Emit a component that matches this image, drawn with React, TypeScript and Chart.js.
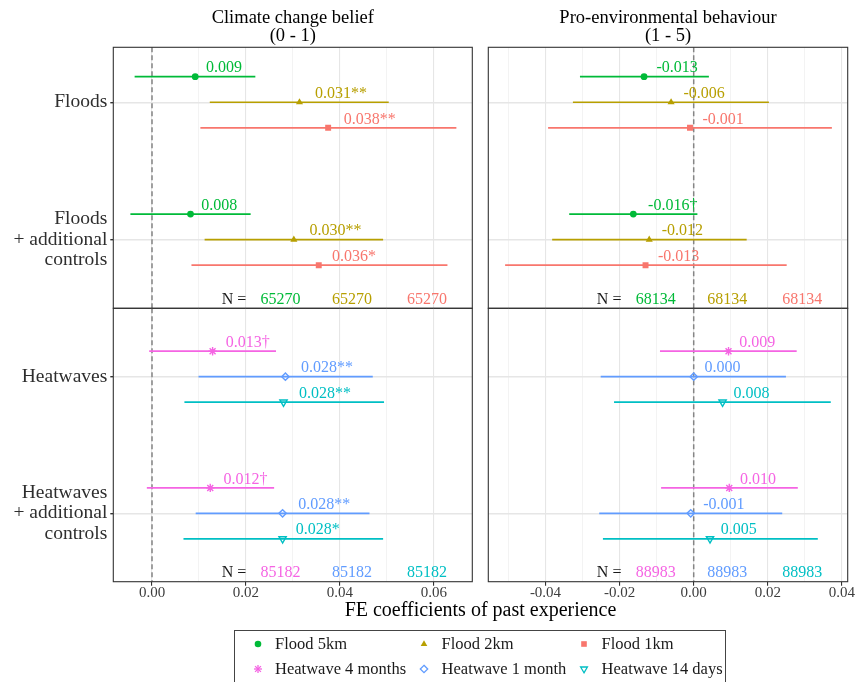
import React, { useEffect, useRef } from "react";
import { Chart, registerables } from "chart.js";
Chart.register(...registerables);

const FONT = "'Liberation Serif', 'Times New Roman', serif";

// ---------------- data ----------------
const columnTitles = ["Climate change belief", "Pro-environmental behaviour"];
const columnRanges = ["(0 - 1)", "(1 - 5)"];
const xAxisTitle = "FE coefficients of past experience";

const floodRowLabels = [["Floods"], ["Floods", "+ additional", "controls"]];
const heatRowLabels = [["Heatwaves"], ["Heatwaves", "+ additional", "controls"]];

const floodSeries = ["Flood 5km", "Flood 2km", "Flood 1km"];
const heatSeries = ["Heatwave 4 months", "Heatwave 1 month", "Heatwave 14 days"];
const floodColors = ["#00BA38", "#B79F00", "#F8766D"];
const heatColors = ["#F564E3", "#619CFF", "#00BFC4"];

const beliefTicks = [0, 0.02, 0.04, 0.06];
const behaviourTicks = [-0.04, -0.02, 0, 0.02, 0.04];

// [series][row]  rows: base, + additional controls
const beliefFloodEst = [[0.0092, 0.0082], [0.0314, 0.0302], [0.0375, 0.0355]];
const beliefFloodLo = [[-0.0037, -0.0046], [0.0123, 0.0112], [0.0103, 0.0084]];
const beliefFloodHi = [[0.022, 0.021], [0.0504, 0.0492], [0.0648, 0.0629]];
const beliefFloodLab = [["0.009", "0.008"], ["0.031**", "0.030**"], ["0.038**", "0.036*"]];
const beliefFloodN = [65270, 65270, 65270];

const behavFloodEst = [[-0.0134, -0.0163], [-0.0061, -0.012], [-0.001, -0.013]];
const behavFloodLo = [[-0.0307, -0.0336], [-0.0326, -0.0382], [-0.0393, -0.0509]];
const behavFloodHi = [[0.0041, 0.001], [0.0203, 0.0143], [0.0373, 0.0251]];
const behavFloodLab = [["-0.013", "-0.016\u2020"], ["-0.006", "-0.012"], ["-0.001", "-0.013"]];
const behavFloodN = [68134, 68134, 68134];

const beliefHeatEst = [[0.0129, 0.0124], [0.0284, 0.0278], [0.028, 0.0278]];
const beliefHeatLo = [[-0.0006, -0.0011], [0.0099, 0.0093], [0.0069, 0.0067]];
const beliefHeatHi = [[0.0264, 0.026], [0.047, 0.0463], [0.0494, 0.0492]];
const beliefHeatLab = [["0.013\u2020", "0.012\u2020"], ["0.028**", "0.028**"], ["0.028**", "0.028*"]];
const beliefHeatN = [85182, 85182, 85182];

const behavHeatEst = [[0.0094, 0.0096], [0.0, -0.0008], [0.0078, 0.0044]];
const behavHeatLo = [[-0.0091, -0.0088], [-0.0251, -0.0255], [-0.0215, -0.0245]];
const behavHeatHi = [[0.0278, 0.0281], [0.0249, 0.0239], [0.037, 0.0335]];
const behavHeatLab = [["0.009", "0.010"], ["0.000", "-0.001"], ["0.008", "0.005"]];
const behavHeatN = [88983, 88983, 88983];

const ROW_POS = [1, 2];
const DODGE = [-0.186, 0, 0.186];

// ---------------- layout ----------------
const LEFT_X = [113.3, 472.3];
const RIGHT_X = [488.3, 847.7];
const TOP_Y = [47.3, 308.3];
const BOT_Y = [308.3, 581.7];
const X_AXIS_H = 30;

const floodStyles = ["circle", "triangle", "rect"];
const floodRot = [0, 0, 0];
const floodFilled = [true, true, true];
const floodRadii = [3.4, 4.1, 4.2];
const heatStyles = ["star", "rectRot", "triangle"];
const heatRot = [0, 0, 180];
const heatFilled = [false, false, false];
const heatRadii = [4.2, 3.7, 4.2];

type Spec = {
  est: number[][]; lo: number[][]; hi: number[][]; lab: string[][]; n: number[];
  names: string[]; colors: string[]; styles: string[]; rot: number[]; filled: boolean[]; radii: number[];
  xMin: number; xMax: number; yMin: number; yMax: number; majors: number[];
  rowLabels: string[][] | null; xTicks: boolean;
  area: { left: number; right: number; top: number; bottom: number };
};

const isMajor = (v: number, majors: number[]) => majors.some((m) => Math.abs(m - v) < 1e-6);
const fmt = (v: number) => (Math.round(v * 100) / 100).toFixed(2).replace("-0.00", "0.00");

function buildConfig(s: Spec): any {
  const datasets: any[] = [];
  s.est.forEach((arr, i) => {
    datasets.push({
      label: s.names[i],
      data: arr.map((v, r) => ({ x: v, y: ROW_POS[r] + DODGE[i] })),
      pointStyle: s.styles[i],
      rotation: s.rot[i],
      pointRadius: s.radii[i],
      pointHoverRadius: s.radii[i],
      backgroundColor: s.filled[i] ? s.colors[i] : "rgba(0,0,0,0)",
      borderColor: s.colors[i],
      borderWidth: s.filled[i] ? 0 : 1.4,
      showLine: false,
    });
  });
  s.lo.forEach((arr, i) =>
    arr.forEach((lo, r) => {
      const y = ROW_POS[r] + DODGE[i];
      datasets.push({
        label: s.names[i] + " CI",
        data: [{ x: lo, y }, { x: s.hi[i][r], y }],
        showLine: true,
        borderColor: s.colors[i],
        borderWidth: 1.7,
        pointRadius: 0,
        pointHoverRadius: 0,
      });
    })
  );

  const zeroLine = {
    id: "zeroLine",
    beforeDatasetsDraw(chart: any) {
      const { ctx, chartArea, scales } = chart;
      const x = scales.x.getPixelForValue(0);
      ctx.save();
      ctx.strokeStyle = "#858585";
      ctx.lineWidth = 1.5;
      ctx.setLineDash([5, 3]);
      ctx.beginPath();
      ctx.moveTo(x, chartArea.top);
      ctx.lineTo(x, chartArea.bottom);
      ctx.stroke();
      ctx.restore();
    },
  };
  const labels = {
    id: "valueLabels",
    afterDatasetsDraw(chart: any) {
      const { ctx, scales, chartArea } = chart;
      ctx.save();
      ctx.font = `16px ${FONT}`;
      ctx.textBaseline = "middle";
      ctx.textAlign = "left";
      s.est.forEach((arr, i) =>
        arr.forEach((v, r) => {
          const txt = s.lab[i][r];
          const w = ctx.measureText(txt).width;
          const px = scales.x.getPixelForValue(v);
          const py = scales.y.getPixelForValue(ROW_POS[r] + DODGE[i]);
          ctx.fillStyle = s.colors[i];
          ctx.fillText(txt, px + 0.3 * w, py - 8.5);
        })
      );
      // N labels
      const w = chartArea.right - chartArea.left;
      const ny = chartArea.bottom - 9;
      ctx.fillStyle = "#1a1a1a";
      ctx.fillText("N =", chartArea.left + 0.302 * w, ny);
      const fr = [0.41, 0.609, 0.818];
      s.n.forEach((n, i) => {
        ctx.fillStyle = s.colors[i];
        ctx.fillText(String(n), chartArea.left + fr[i] * w, ny);
      });
      ctx.restore();
    },
  };
  const border = {
    id: "panelBorder",
    afterDraw(chart: any) {
      const { ctx, chartArea } = chart;
      ctx.save();
      ctx.strokeStyle = "#333333";
      ctx.lineWidth = 1.1;
      ctx.strokeRect(chartArea.left, chartArea.top, chartArea.right - chartArea.left, chartArea.bottom - chartArea.top);
      ctx.restore();
    },
  };

  const yW = s.rowLabels ? s.area.left : 0;
  return {
    type: "scatter",
    data: { datasets },
    plugins: [zeroLine, labels, border],
    options: {
      animation: false,
      responsive: false,
      devicePixelRatio: 1,
      events: [],
      layout: {
        autoPadding: false,
        padding: {
          left: s.area.left - yW,
          right: 857 - s.area.right,
          top: s.area.top,
          bottom: 682 - s.area.bottom - (s.xTicks ? X_AXIS_H : 0),
        },
      },
      plugins: { legend: { display: false }, tooltip: { enabled: false }, title: { display: false } },
      scales: {
        x: {
          type: "linear",
          min: s.xMin,
          max: s.xMax,
          afterFit: (sc: any) => { sc.height = s.xTicks ? X_AXIS_H : 0; },
          border: { display: false },
          grid: {
            color: (c: any) => (c.tick && isMajor(c.tick.value, s.majors) ? "#E6E6E6" : "#F0F0F0"),
            lineWidth: (c: any) => (c.tick && isMajor(c.tick.value, s.majors) ? 1.1 : 0.8),
            drawTicks: s.xTicks,
            tickLength: 4,
            tickColor: (c: any) => (c.tick && isMajor(c.tick.value, s.majors) ? "#333333" : "rgba(0,0,0,0)"),
          },
          ticks: {
            display: s.xTicks,
            stepSize: 0.01,
            includeBounds: false,
            autoSkip: false,
            maxRotation: 0,
            minRotation: 0,
            padding: -2,
            color: "#3d3d3d",
            font: { family: FONT, size: 15 },
            callback: (v: number) => (isMajor(v, s.majors) ? fmt(v) : ""),
          },
        },
        y: {
          type: "linear",
          min: s.yMin,
          max: s.yMax,
          reverse: true,
          afterFit: (sc: any) => { sc.width = yW; },
          afterBuildTicks: (sc: any) => { sc.ticks = ROW_POS.map((v) => ({ value: v })); },
          border: { display: false },
          grid: {
            color: "#E6E6E6",
            lineWidth: 1.4,
            drawTicks: !!s.rowLabels,
            tickLength: 3,
            tickColor: "#333333",
          },
          ticks: {
            display: !!s.rowLabels,
            padding: 3,
            color: "#2e2e2e",
            font: { family: FONT, size: 19.5, lineHeight: 1.05 },
            callback: (v: number) => (s.rowLabels ? s.rowLabels[ROW_POS.indexOf(v)] : ""),
          },
        },
      },
    },
  };
}

const specs: Spec[] = [
  {
    est: beliefFloodEst, lo: beliefFloodLo, hi: beliefFloodHi, lab: beliefFloodLab, n: beliefFloodN,
    names: floodSeries, colors: floodColors, styles: floodStyles, rot: floodRot, filled: floodFilled, radii: floodRadii,
    xMin: -0.00824, xMax: 0.06819, yMin: 0.6, yMax: 2.5, majors: beliefTicks,
    rowLabels: floodRowLabels, xTicks: false,
    area: { left: LEFT_X[0], right: LEFT_X[1], top: TOP_Y[0], bottom: TOP_Y[1] },
  },
  {
    est: behavFloodEst, lo: behavFloodLo, hi: behavFloodHi, lab: behavFloodLab, n: behavFloodN,
    names: floodSeries, colors: floodColors, styles: floodStyles, rot: floodRot, filled: floodFilled, radii: floodRadii,
    xMin: -0.05544, xMax: 0.04157, yMin: 0.6, yMax: 2.5, majors: behaviourTicks,
    rowLabels: null, xTicks: false,
    area: { left: RIGHT_X[0], right: RIGHT_X[1], top: TOP_Y[0], bottom: TOP_Y[1] },
  },
  {
    est: beliefHeatEst, lo: beliefHeatLo, hi: beliefHeatHi, lab: beliefHeatLab, n: beliefHeatN,
    names: heatSeries, colors: heatColors, styles: heatStyles, rot: heatRot, filled: heatFilled, radii: heatRadii,
    xMin: -0.00824, xMax: 0.06819, yMin: 0.5, yMax: 2.5, majors: beliefTicks,
    rowLabels: heatRowLabels, xTicks: true,
    area: { left: LEFT_X[0], right: LEFT_X[1], top: BOT_Y[0], bottom: BOT_Y[1] },
  },
  {
    est: behavHeatEst, lo: behavHeatLo, hi: behavHeatHi, lab: behavHeatLab, n: behavHeatN,
    names: heatSeries, colors: heatColors, styles: heatStyles, rot: heatRot, filled: heatFilled, radii: heatRadii,
    xMin: -0.05544, xMax: 0.04157, yMin: 0.5, yMax: 2.5, majors: behaviourTicks,
    rowLabels: null, xTicks: true,
    area: { left: RIGHT_X[0], right: RIGHT_X[1], top: BOT_Y[0], bottom: BOT_Y[1] },
  },
];

function Panel({ spec }: { spec: Spec }) {
  const ref = useRef<HTMLCanvasElement | null>(null);
  useEffect(() => {
    if (!ref.current) return;
    const chart = new Chart(ref.current, buildConfig(spec));
    return () => chart.destroy();
  }, [spec]);
  return (
    <canvas
      ref={ref}
      width={857}
      height={682}
      style={{ position: "absolute", left: 0, top: 0, width: 857, height: 682 }}
    />
  );
}

function CText({ cx, cy, size, children, color = "#000" }: any) {
  return (
    <div
      style={{
        position: "absolute", left: cx - 300, width: 600, top: cy - size, height: size * 2,
        lineHeight: `${size * 2}px`, textAlign: "center", fontSize: size, fontFamily: FONT,
        color, whiteSpace: "nowrap",
      }}
    >
      {children}
    </div>
  );
}

function Sym({ kind, color }: { kind: string; color: string }) {
  const c = 8;
  let el: any = null;
  if (kind === "circle") el = <circle cx={c} cy={c} r={3.3} fill={color} />;
  if (kind === "triangle") el = <polygon points={`${c},${c - 3.8} ${c + 3.3},${c + 1.9} ${c - 3.3},${c + 1.9}`} fill={color} />;
  if (kind === "rect") el = <rect x={c - 2.8} y={c - 2.8} width={5.6} height={5.6} fill={color} />;
  if (kind === "star")
    el = (
      <g stroke={color} strokeWidth={1.3}>
        <line x1={c - 4} y1={c} x2={c + 4} y2={c} />
        <line x1={c} y1={c - 4} x2={c} y2={c + 4} />
        <line x1={c - 2.9} y1={c - 2.9} x2={c + 2.9} y2={c + 2.9} />
        <line x1={c - 2.9} y1={c + 2.9} x2={c + 2.9} y2={c - 2.9} />
      </g>
    );
  if (kind === "rectRot") el = <polygon points={`${c},${c - 3.7} ${c + 3.7},${c} ${c},${c + 3.7} ${c - 3.7},${c}`} fill="none" stroke={color} strokeWidth={1.3} />;
  if (kind === "triangleDown") el = <polygon points={`${c},${c + 3.8} ${c + 3.4},${c - 2} ${c - 3.4},${c - 2}`} fill="none" stroke={color} strokeWidth={1.3} />;
  return (
    <svg width={16} height={16} style={{ position: "absolute", left: -8, top: -8 }}>
      {el}
    </svg>
  );
}

const legendCols = [257.7, 424.3, 584.3];
const legendRows = [644, 669.3];

export default function App() {
  const legendItems = [
    ...floodSeries.map((n, i) => ({ name: n, color: floodColors[i], kind: floodStyles[i], row: 0, col: i })),
    ...heatSeries.map((n, i) => ({ name: n, color: heatColors[i], kind: ["star", "rectRot", "triangleDown"][i], row: 1, col: i })),
  ];
  return (
    <div style={{ position: "absolute", left: 0, top: 0, width: 857, height: 682, overflow: "hidden", background: "#fff" }}>
      {specs.map((s, i) => (
        <Panel key={i} spec={s} />
      ))}
      <CText cx={(LEFT_X[0] + LEFT_X[1]) / 2} cy={17} size={18.5}>{columnTitles[0]}</CText>
      <CText cx={(LEFT_X[0] + LEFT_X[1]) / 2} cy={35.5} size={18.5}>{columnRanges[0]}</CText>
      <CText cx={(RIGHT_X[0] + RIGHT_X[1]) / 2} cy={17} size={18.5}>{columnTitles[1]}</CText>
      <CText cx={(RIGHT_X[0] + RIGHT_X[1]) / 2} cy={35.5} size={18.5}>{columnRanges[1]}</CText>
      <CText cx={(LEFT_X[0] + RIGHT_X[1]) / 2} cy={609} size={20}>{xAxisTitle}</CText>
      <div
        style={{
          position: "absolute", left: 234, top: 629.5, width: 491.5, height: 70,
          border: "1px solid #444", boxSizing: "border-box",
        }}
      />
      {legendItems.map((it, k) => (
        <React.Fragment key={k}>
          <div style={{ position: "absolute", left: legendCols[it.col], top: legendRows[it.row], width: 0, height: 0 }}>
            <Sym kind={it.kind} color={it.color} />
          </div>
          <div
            style={{
              position: "absolute", left: legendCols[it.col] + 17.3, top: legendRows[it.row] - 12, height: 24,
              lineHeight: "24px", fontSize: 16.5, fontFamily: FONT, color: "#1a1a1a", whiteSpace: "nowrap",
            }}
          >
            {it.name}
          </div>
        </React.Fragment>
      ))}
    </div>
  );
}
